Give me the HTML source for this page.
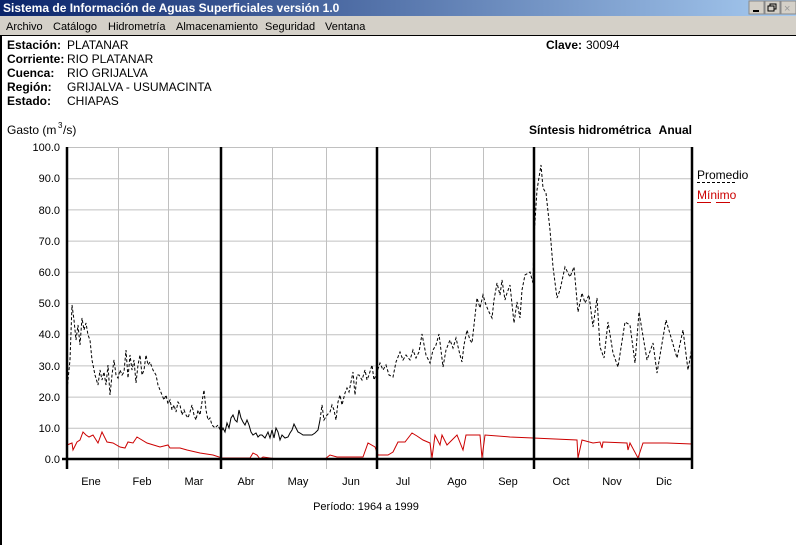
<!DOCTYPE html>
<html><head><meta charset="utf-8"><style>
html,body{margin:0;padding:0;width:796px;height:545px;overflow:hidden;background:#fff;font-family:"Liberation Sans",Arial,sans-serif}
</style></head><body>
<svg width="796" height="545" xmlns="http://www.w3.org/2000/svg" font-family="Liberation Sans, Arial, sans-serif">
<defs><linearGradient id="tb" x1="0" x2="1"><stop offset="0" stop-color="#0A246A"/><stop offset="1" stop-color="#A6CAF0"/></linearGradient></defs>
<rect x="0" y="0" width="796" height="16" fill="url(#tb)"/>
<text x="3" y="12" font-size="12" font-weight="bold" fill="#fff">Sistema de Información de Aguas Superficiales  versión 1.0</text>
<g stroke="#888" fill="#D4D0C8"><rect x="749" y="1" width="15" height="13"/><rect x="765" y="1" width="15" height="13"/><rect x="781" y="1" width="15" height="13"/></g>
<rect x="753" y="10" width="6" height="2" fill="#000"/>
<rect x="770" y="4" width="6" height="5" fill="none" stroke="#000"/><rect x="768" y="6" width="6" height="5" fill="#D4D0C8" stroke="#000"/>
<text x="784" y="12" font-size="11" fill="#999">×</text>
<rect x="0" y="16" width="796" height="19" fill="#D4D0C8"/>
<g font-size="11" fill="#000">
<text x="6" y="30">Archivo</text><text x="53" y="30">Catálogo</text><text x="108" y="30">Hidrometría</text><text x="176" y="30">Almacenamiento</text><text x="265" y="30">Seguridad</text><text x="325" y="30">Ventana</text>
</g>
<rect x="0" y="35" width="796" height="1" fill="#000"/>
<rect x="0" y="35" width="2" height="510" fill="#000"/>
<g font-size="12" fill="#000">
<text x="7" y="49" font-weight="bold">Estación:</text><text x="67" y="49">PLATANAR</text>
<text x="7" y="63" font-weight="bold">Corriente:</text><text x="67" y="63">RIO PLATANAR</text>
<text x="7" y="77" font-weight="bold">Cuenca:</text><text x="67" y="77">RIO GRIJALVA</text>
<text x="7" y="91" font-weight="bold">Región:</text><text x="67" y="91">GRIJALVA - USUMACINTA</text>
<text x="7" y="105" font-weight="bold">Estado:</text><text x="67" y="105">CHIAPAS</text>
<text x="546" y="49" font-weight="bold">Clave:</text><text x="586" y="49">30094</text>
<text x="7" y="134">Gasto (m</text><text x="58" y="128" font-size="8">3</text><text x="63" y="134">/s)</text>
<text x="651" y="134" font-weight="bold" text-anchor="end">Síntesis hidrométrica</text>
<text x="692" y="134" font-weight="bold" text-anchor="end">Anual</text>
</g>
<g stroke="#c0c0c0" stroke-width="1">
<line x1="67" x2="692" y1="147.5" y2="147.5"/><line x1="67" x2="692" y1="178.7" y2="178.7"/><line x1="67" x2="692" y1="209.9" y2="209.9"/><line x1="67" x2="692" y1="241.1" y2="241.1"/><line x1="67" x2="692" y1="272.3" y2="272.3"/><line x1="67" x2="692" y1="303.5" y2="303.5"/><line x1="67" x2="692" y1="334.7" y2="334.7"/><line x1="67" x2="692" y1="365.9" y2="365.9"/><line x1="67" x2="692" y1="397.1" y2="397.1"/><line x1="67" x2="692" y1="428.3" y2="428.3"/>
<line x1="118.5" x2="118.5" y1="147" y2="469"/><line x1="168.5" x2="168.5" y1="147" y2="469"/><line x1="272.5" x2="272.5" y1="147" y2="469"/><line x1="326.5" x2="326.5" y1="147" y2="469"/><line x1="430.5" x2="430.5" y1="147" y2="469"/><line x1="483.5" x2="483.5" y1="147" y2="469"/><line x1="588.5" x2="588.5" y1="147" y2="469"/><line x1="639.5" x2="639.5" y1="147" y2="469"/>
</g>
<g font-size="11" fill="#000" text-anchor="end">
<text x="60" y="151">100.0</text><text x="60" y="182">90.0</text><text x="60" y="214">80.0</text><text x="60" y="245">70.0</text><text x="60" y="276">60.0</text><text x="60" y="307">50.0</text><text x="60" y="338">40.0</text><text x="60" y="370">30.0</text><text x="60" y="401">20.0</text><text x="60" y="432">10.0</text><text x="60" y="463">0.0</text>
</g>
<polyline fill="none" stroke="#cc0000" stroke-width="1" points="67,445 72,443 73,450 77,442 80,440 83,432 86,435 89,437 93,435 98,443 102,432 107,442 113,443 120,447 125,448 128,442 133,443 137,437 147,443 160,447 168,445 170,448 180,448 187,450 200,453 213,455 222,458 250,458 253,453 257,455 260,459 263,457 277,459 325,459 330,455 337,457 363,457 368,443 375,447 378,455 388,455 393,452 398,442 405,442 412,433 417,436 423,440 430,443 432,458 435,435 440,445 442,435 447,445 452,440 457,435 463,450 466,435 480,435 482,458 485,435 510,437 533,438 577,440 578,458 582,440 593,443 600,442 602,448 603,442 627,443 628,450 630,443 638,458 643,443 667,443 692,444"/>
<polyline fill="none" stroke="#000" stroke-width="1" stroke-dasharray="3,2" points="67,390 70,360 72,305 74,320 76,340 78,325 80,345 82,318 84,330 86,323 88,335 90,340 92,360 95,375 98,385 100,370 102,380 104,372 106,385 108,365 110,395 112,375 114,360 116,375 118,378 120,370 122,375 124,372 126,350 128,378 130,355 132,370 134,360 136,383 138,365 140,355 142,375 144,370 146,355 148,365 150,362 153,370 156,375 158,385 160,390 162,395 164,400 166,395 168,404 170,400 172,410 174,405 176,412 178,402 180,405 182,415 184,410 186,415 188,418 190,412 192,405 194,415 196,420 198,410 200,415 202,402 204,390 206,410 208,420 210,418 212,425 215,428 218,425 221,432"/>
<polyline fill="none" stroke="#000" stroke-width="1" points="221,432 223,428 225,432 227,423 229,428 231,418 233,415 235,420 237,422 239,410 241,418 243,422 245,425 247,420 249,425 251,432 253,435 256,433 258,437 260,435 262,435 265,438 268,432 270,438 272,430 274,438 276,428 278,432 280,440 282,435 285,438 288,437 290,433 292,430 294,424 296,428 298,432 300,433 303,435 306,435 309,435 312,435 315,433 318,430 320,420"/>
<polyline fill="none" stroke="#000" stroke-width="1" stroke-dasharray="3,2" points="320,420 322,405 324,420 327,415 330,412 332,405 334,410 336,420 338,402 340,395 342,405 345,393 347,388 349,392 351,382 353,372 355,395 357,375 359,375 362,380 365,370 367,380 369,375 372,365 374,380 377,372 380,363 383,370 386,365 389,375 393,377 396,362 400,352 403,360 406,355 410,360 413,350 416,358 419,352 422,334 426,355 430,363 433,350 436,345 439,334 443,367 446,350 450,340 453,348 456,338 460,355 462,362 464,345 467,330 470,340 472,343 477,298 480,308 483,295 486,305 489,312 492,318 494,300 497,283 500,295 502,280 505,300 507,293 510,285 514,323 517,302 520,318 522,290 525,275 530,272 533,283 534,237 537,190 541,165 543,188 546,193 550,230 553,267 557,298 560,290 565,267 570,277 574,267 578,312 582,293 585,303 589,295 593,327 597,298 600,347 604,358 608,322 613,353 618,367 625,322 630,325 635,363 639,312 647,360 653,343 657,373 666,320 677,358 683,330 688,370 692,347"/>
<g stroke="#000" stroke-width="2.5">
<line x1="67" x2="692" y1="459" y2="459"/>
<line x1="67" x2="67" y1="147" y2="469"/><line x1="221" x2="221" y1="147" y2="469"/><line x1="377" x2="377" y1="147" y2="469"/><line x1="534" x2="534" y1="147" y2="469"/><line x1="692" x2="692" y1="147" y2="469"/>
<line x1="62" x2="67" y1="459" y2="459"/>
</g>
<g font-size="11" fill="#000" text-anchor="middle">
<text x="91" y="485">Ene</text><text x="142" y="485">Feb</text><text x="194" y="485">Mar</text><text x="246" y="485">Abr</text><text x="298" y="485">May</text><text x="351" y="485">Jun</text><text x="403" y="485">Jul</text><text x="457" y="485">Ago</text><text x="508" y="485">Sep</text><text x="561" y="485">Oct</text><text x="612" y="485">Nov</text><text x="664" y="485">Dic</text>
<text x="366" y="510">Período:  1964 a 1999</text>
</g>
<text x="697" y="179" font-size="12" fill="#000">Promedio</text>
<line x1="697" x2="737" y1="182.5" y2="182.5" stroke="#000" stroke-dasharray="3,2"/>
<text x="697" y="199" font-size="12" fill="#cc0000">Mínimo</text>
<line x1="697" x2="735" y1="202.5" y2="202.5" stroke="#cc0000" stroke-dasharray="14,5"/>
</svg>
</body></html>
